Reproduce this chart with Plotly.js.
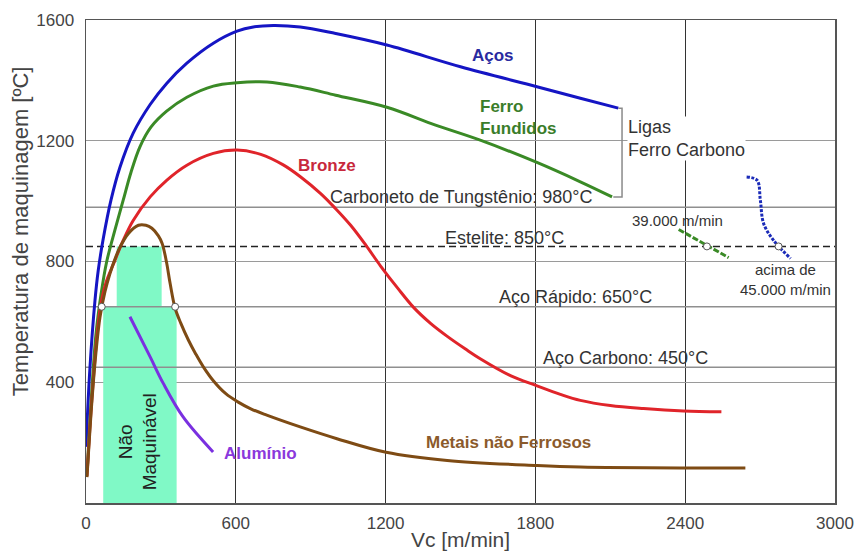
<!DOCTYPE html>
<html>
<head>
<meta charset="utf-8">
<script src="https://cdn.plot.ly/plotly-3.0.1.min.js"></script>
<style>html,body{margin:0;padding:0;background:#fff;}#chart{width:856px;height:551px;}</style>
</head>
<body>
<div id="chart"></div>
<script>
// Curves (Vc [m/min], temperature [ºC])
var acosX = [0, 16, 36, 49, 69, 100, 136, 189, 257, 323, 404, 510, 605, 670, 750, 858, 1000, 1205, 1500, 1806, 1980, 2132];
var acosY = [186, 450, 671, 770, 875, 1003, 1112, 1225, 1320, 1390, 1457, 1523, 1563, 1577, 1582, 1577, 1555, 1517, 1445, 1379, 1341, 1308];

var ferroX = [5, 20, 40, 60, 83, 116, 149, 180, 216, 260, 323, 404, 510, 605, 725, 858, 1000, 1205, 1400, 1579, 1806, 1980, 2107];
var ferroY = [110, 330, 560, 690, 800, 905, 1003, 1095, 1180, 1245, 1298, 1344, 1381, 1392, 1395, 1378, 1351, 1311, 1252, 1202, 1128, 1064, 1014];

var bronzeX = [4, 24, 56, 80, 109, 149, 189, 257, 323, 404, 510, 605, 700, 790, 860, 940, 1000, 1060, 1120, 1180, 1250, 1312, 1380, 1447, 1520, 1579, 1700, 1804, 1900, 1980, 2100, 2233, 2393, 2545];
var bronzeY = [90, 350, 640, 730, 790, 870, 936, 1014, 1069, 1119, 1158, 1169, 1155, 1120, 1080, 1025, 975, 920, 855, 785, 710, 648, 595, 552, 510, 478, 422, 389, 360, 340, 323, 313, 305, 302];

var metaisX = [4, 24, 40, 56, 76, 96, 116, 136, 170, 210, 240, 264, 290, 305, 322, 337, 357, 380, 410, 440, 470, 510, 560, 608, 660, 724, 858, 1005, 1202, 1447, 1807, 1980, 2393, 2641];
var metaisY = [86, 341, 500, 615, 700, 760, 808, 847, 893, 920, 920, 910, 885, 860, 800, 727, 645, 595, 540, 493, 451, 405, 362, 335, 312, 291, 252, 213, 168, 141, 124, 119, 116, 116];

var aluminioX = [176, 257, 309, 389, 509];
var aluminioY = [617, 484, 397, 285, 169];

// Extrapolations at very high speeds
var ext39X = [2374, 2574];
var ext39Y = [906, 813];
var ext45X = [2646, 2688, 2701, 2714, 2754, 2822];
var ext45Y = [1080, 1069, 1003, 926, 870, 810];

// "Não Maquinável" region outline
var zoneX = [69, 69, 123, 123, 303, 303, 363, 363, 69];
var zoneY = [0, 650, 650, 850, 850, 650, 650, 0, 0];

// Tool material temperature limits
var limitTemps = [980, 650, 450];
var esteliteTemp = 850;

// Bracket "Ligas Ferro Carbono"
var bracketX = [2132, 2147, 2147, 2112];
var bracketY = [1308, 1308, 1014, 1014];

// Intersection markers
var markX = [63, 357, 2487, 2774];
var markY = [650, 650, 850, 850];

var xTicks = [0, 600, 1200, 1800, 2400, 3000];
var yTicks = [400, 800, 1200, 1600];

var FONT = 'Liberation Sans, Arial, sans-serif';
var traces = [];

traces.push({x: zoneX, y: zoneY, mode: 'lines', fill: 'toself', fillcolor: '#80f9c6',
  line: {width: 0, color: '#80f9c6'}, hoverinfo: 'skip', showlegend: false});

limitTemps.forEach(function (t) {
  traces.push({x: [0, 3000], y: [t, t], mode: 'lines', line: {color: '#8f8f8f', width: 1.5},
    hoverinfo: 'skip', showlegend: false});
});
traces.push({x: [0, 3000], y: [esteliteTemp, esteliteTemp], mode: 'lines',
  line: {color: '#222', width: 1.5, dash: '7px,4px'}, hoverinfo: 'skip', showlegend: false});

function curve(x, y, color, w, dash) {
  return {x: x, y: y, mode: 'lines', line: {color: color, width: w, shape: 'spline', smoothing: 1, dash: dash || 'solid'},
    showlegend: false};
}
traces.push(curve(acosX, acosY, '#1515c4', 3));
traces.push(curve(ferroX, ferroY, '#3a8a26', 3));
traces.push(curve(bronzeX, bronzeY, '#e0242a', 3));
traces.push(curve(metaisX, metaisY, '#7e4b14', 3));
traces.push(curve(aluminioX, aluminioY, '#7a30e0', 3));
traces.push(curve(ext39X, ext39Y, '#3a8a26', 3, '6px,2px'));
traces.push(curve(ext45X, ext45Y, '#1b2bb8', 3, '3px,1.5px'));

traces.push({x: bracketX, y: bracketY, mode: 'lines', line: {color: '#8a8a8a', width: 1.5},
  hoverinfo: 'skip', showlegend: false});

traces.push({x: markX, y: markY, mode: 'markers',
  marker: {symbol: 'circle', size: 7, color: '#ffffff', line: {color: '#555', width: 1}},
  showlegend: false});

function ann(text, x, y, opts) {
  var a = {text: text, x: x, y: y, xref: 'x', yref: 'y', showarrow: false,
    xanchor: 'left', yanchor: 'middle', font: {family: FONT, size: 18, color: '#333'}};
  for (var k in opts) { a[k] = opts[k]; }
  return a;
}

var annotations = [
  ann('<b>Aços</b>', 1631, 1484, {xanchor: 'center', font: {family: FONT, size: 17, color: '#2a2aa0'}}),
  ann('<b>Ferro<br>Fundidos</b>', 1571, 1278, {align: 'left', font: {family: FONT, size: 17, color: '#3a7d2a'}}),
  ann('<b>Bronze</b>', 965, 1117, {xanchor: 'center', font: {family: FONT, size: 17, color: '#c8283c'}}),
  ann('Carboneto de Tungstênio: 980°C', 971, 1013, {}),
  ann('Estelite: 850°C', 1431, 877, {}),
  ann('Ligas<br>Ferro Carbono', 2166, 1208, {align: 'left', bgcolor: '#ffffff', borderpad: 0}),
  ann('39.000 m/min', 2180, 935, {font: {family: FONT, size: 15, color: '#333'}}),
  ann('acima de<br>45.000 m/min', 2800, 741, {xanchor: 'center', align: 'center', font: {family: FONT, size: 15, color: '#333'}}),
  ann('Aço Rápido: 650°C', 1647, 683, {}),
  ann('Aço Carbono: 450°C', 1824, 479, {}),
  ann('<b>Metais não Ferrosos</b>', 1352, 199, {font: {family: FONT, size: 17, color: '#8b5a2b'}}),
  ann('<b>Alumínio</b>', 544, 164, {font: {family: FONT, size: 17, color: '#8a38dc'}}),
  ann('Não<br>Maquinável', 208, 204, {xanchor: 'center', textangle: -90, align: 'center',
    font: {family: FONT, size: 19, color: '#222'}}),
  {text: 'Temperatura de maquinagem [ºC]', xref: 'paper', yref: 'paper', x: -0.088, y: 0.563,
    xanchor: 'center', yanchor: 'middle', textangle: -90, showarrow: false,
    font: {family: FONT, size: 22, color: '#444'}}
];

var layout = {
  width: 856, height: 551,
  margin: {l: 86, r: 21, t: 20, b: 48},
  paper_bgcolor: '#ffffff', plot_bgcolor: '#ffffff',
  showlegend: false,
  font: {family: FONT, color: '#444'},
  xaxis: {
    range: [0, 3000], tickvals: xTicks, ticktext: xTicks.map(String),
    showgrid: true, gridcolor: '#333', gridwidth: 1, zeroline: false,
    showline: true, linecolor: '#555', linewidth: 1.5, mirror: true,
    ticks: '', ticklabelstandoff: 4,
    tickfont: {family: FONT, size: 17, color: '#444'},
    title: {text: 'Vc [m/min]', font: {family: FONT, size: 21, color: '#444'}, standoff: 0},
    automargin: false
  },
  yaxis: {
    range: [0, 1600], tickvals: yTicks, ticktext: yTicks.map(String),
    showgrid: true, gridcolor: '#9a9a9a', gridwidth: 1, zeroline: false,
    showline: true, linecolor: '#555', linewidth: 1.5, mirror: true,
    ticks: '', ticklabelstandoff: 7,
    tickfont: {family: FONT, size: 17, color: '#444'},
    automargin: false
  },
  annotations: annotations
};

Plotly.newPlot('chart', traces, layout, {staticPlot: true, displayModeBar: false});
</script>
</body>
</html>
